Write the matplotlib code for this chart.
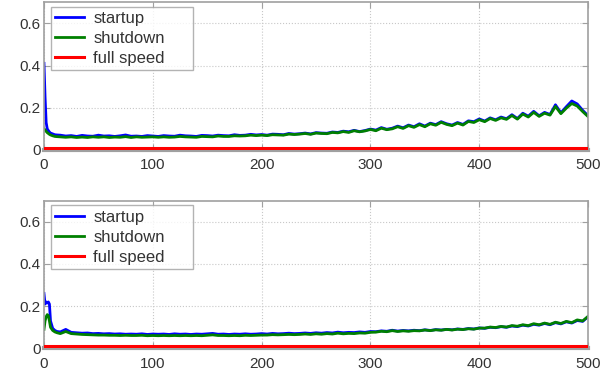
import matplotlib
matplotlib.use("Agg")
import matplotlib.pyplot as plt

plt.rcParams['font.family'] = ['Liberation Sans', 'DejaVu Sans']

# sample positions (dense at the start, then every 5)
x = [0, 1, 2, 3, 4, 5, 6, 8, 10, 12] + list(range(15, 501, 5))

# ---- upper panel ----
startup_top = [0.41, 0.25, 0.13, 0.10, 0.092, 0.085, 0.080, 0.076, 0.072, 0.071,
               0.070, 0.066, 0.068, 0.064, 0.069, 0.066, 0.065, 0.070, 0.066, 0.067,
               0.064, 0.067, 0.071, 0.065, 0.066, 0.064, 0.068, 0.066,
               0.064, 0.068, 0.066, 0.065, 0.070, 0.067, 0.066, 0.064, 0.069, 0.068,
               0.066, 0.070, 0.068, 0.067, 0.072, 0.069, 0.070, 0.074, 0.071, 0.073,
               0.070, 0.075, 0.074, 0.072, 0.078, 0.075, 0.077, 0.080, 0.076, 0.082,
               0.080, 0.079, 0.085, 0.083, 0.089, 0.086, 0.093, 0.087, 0.092, 0.099,
               0.094, 0.106, 0.098, 0.103, 0.113, 0.105, 0.118, 0.110, 0.124, 0.113,
               0.127, 0.120, 0.134, 0.124, 0.118, 0.130, 0.121, 0.138, 0.134, 0.147,
               0.137, 0.152, 0.143, 0.156, 0.148, 0.167, 0.149, 0.174, 0.160, 0.183,
               0.162, 0.178, 0.168, 0.214, 0.176, 0.205, 0.232, 0.218, 0.188, 0.162]
shutdown_top = [0.10, 0.095, 0.088, 0.082, 0.078, 0.074, 0.071, 0.067, 0.064, 0.063,
                0.062, 0.060, 0.062, 0.059, 0.061, 0.059, 0.062, 0.060, 0.062, 0.059,
                0.061, 0.060, 0.063, 0.059, 0.062, 0.060, 0.061, 0.062,
                0.060, 0.062, 0.060, 0.061, 0.064, 0.062, 0.061, 0.060, 0.064, 0.063,
                0.062, 0.066, 0.064, 0.064, 0.067, 0.066, 0.067, 0.070, 0.068, 0.070,
                0.068, 0.072, 0.071, 0.070, 0.075, 0.073, 0.075, 0.078, 0.074, 0.080,
                0.078, 0.077, 0.083, 0.081, 0.087, 0.083, 0.091, 0.086, 0.090, 0.097,
                0.091, 0.103, 0.096, 0.100, 0.110, 0.102, 0.115, 0.107, 0.120, 0.110,
                0.124, 0.117, 0.131, 0.121, 0.115, 0.127, 0.118, 0.135, 0.130, 0.143,
                0.134, 0.149, 0.140, 0.152, 0.145, 0.163, 0.146, 0.170, 0.156, 0.178,
                0.159, 0.174, 0.165, 0.206, 0.172, 0.198, 0.220, 0.208, 0.182, 0.158]

# ---- lower panel ----
startup_bot = [0.26, 0.21, 0.22, 0.215, 0.22, 0.21, 0.13, 0.095, 0.085, 0.080,
               0.078, 0.090, 0.076, 0.074, 0.072, 0.073, 0.070, 0.071, 0.069, 0.070,
               0.068, 0.069, 0.067, 0.068, 0.067, 0.069, 0.066, 0.068,
               0.067, 0.068, 0.066, 0.069, 0.067, 0.068, 0.066, 0.068, 0.067, 0.069,
               0.071, 0.067, 0.068, 0.066, 0.068, 0.067, 0.069, 0.067, 0.068, 0.070,
               0.068, 0.071, 0.069, 0.070, 0.072, 0.070, 0.071, 0.073, 0.071, 0.074,
               0.072, 0.075, 0.073, 0.077, 0.074, 0.076, 0.075, 0.078, 0.076, 0.080,
               0.079, 0.083, 0.081, 0.086, 0.082, 0.085, 0.083, 0.086, 0.084, 0.088,
               0.085, 0.089, 0.087, 0.090, 0.088, 0.092, 0.090, 0.094, 0.092, 0.097,
               0.095, 0.100, 0.098, 0.103, 0.100, 0.106, 0.103, 0.110, 0.106, 0.114,
               0.110, 0.118, 0.112, 0.122, 0.116, 0.126, 0.120, 0.132, 0.128, 0.150]
shutdown_bot = [0.09, 0.13, 0.15, 0.16, 0.155, 0.13, 0.10, 0.085, 0.078, 0.074,
                0.070, 0.080, 0.070, 0.068, 0.066, 0.065, 0.064, 0.063, 0.063, 0.062,
                0.062, 0.061, 0.062, 0.061, 0.061, 0.062, 0.060, 0.061,
                0.060, 0.061, 0.060, 0.061, 0.060, 0.061, 0.060, 0.061, 0.060, 0.062,
                0.064, 0.061, 0.061, 0.060, 0.061, 0.060, 0.062, 0.061, 0.062, 0.063,
                0.063, 0.065, 0.064, 0.065, 0.066, 0.065, 0.066, 0.068, 0.066, 0.069,
                0.067, 0.070, 0.068, 0.072, 0.069, 0.071, 0.070, 0.073, 0.072, 0.076,
                0.077, 0.081, 0.079, 0.084, 0.080, 0.083, 0.081, 0.084, 0.083, 0.087,
                0.084, 0.088, 0.086, 0.090, 0.087, 0.091, 0.089, 0.093, 0.091, 0.096,
                0.096, 0.101, 0.099, 0.104, 0.101, 0.108, 0.105, 0.112, 0.108, 0.117,
                0.112, 0.120, 0.114, 0.124, 0.118, 0.128, 0.122, 0.135, 0.130, 0.152]

# full speed stays flat near zero
full_x = [0, 100, 200, 300, 400, 500]
full_top = [0.011, 0.011, 0.011, 0.011, 0.011, 0.011]
full_bot = [0.012, 0.012, 0.012, 0.012, 0.012, 0.012]

xticks = [0, 100, 200, 300, 400, 500]
yticks = [0, 0.2, 0.4, 0.6]
ytick_labels = ['0', '0.2', '0.4', '0.6']

SPINE = '#a0a0a0'
TEXT = '#333333'

fig = plt.figure(figsize=(6.1, 3.73), dpi=100)
ax_top = fig.add_axes([0.0721, 0.598, 0.892, 0.396])
ax_bot = fig.add_axes([0.0721, 0.066, 0.892, 0.396])

panels = [(ax_top, startup_top, shutdown_top, full_top),
          (ax_bot, startup_bot, shutdown_bot, full_bot)]

for ax, su, sd, fs in panels:
    ax.plot(x, su, color='#0000ff', lw=2.0, label='startup')
    ax.plot(x, sd, color='#008000', lw=2.0, label='shutdown')
    # keep the red trace above the heavy bottom spine
    ax.plot(full_x, fs, color='#ff0000', lw=2.2, label='full speed', zorder=3)
    ax.set_xlim(0, 500)
    ax.set_ylim(0, 0.7)
    ax.set_xticks(xticks)
    ax.set_yticks(yticks)
    ax.set_yticklabels(ytick_labels)
    ax.grid(True, linestyle=':', color='#c8c8c8', lw=0.8)
    ax.tick_params(direction='in', top=True, right=True, length=4,
                   color=SPINE, labelcolor=TEXT, labelsize=11)
    ax.tick_params(axis='x', pad=6)
    ax.tick_params(axis='y', pad=2.5)
    for s in ax.spines.values():
        s.set_color(SPINE)
        s.set_linewidth(1.2)
    ax.spines['bottom'].set_linewidth(3.0)
    leg = ax.legend(loc='upper left', bbox_to_anchor=(0.0123, 0, 0.261, 0.968),
                    mode='expand', fontsize=12, frameon=True, fancybox=False,
                    handlelength=1.75, handletextpad=0.55, labelspacing=0.3,
                    borderpad=0.25, borderaxespad=0.0)
    leg.get_frame().set_edgecolor(SPINE)
    leg.get_frame().set_linewidth(1.0)
    for t in leg.get_texts():
        t.set_color(TEXT)

fig.savefig('out.png', dpi=100)
